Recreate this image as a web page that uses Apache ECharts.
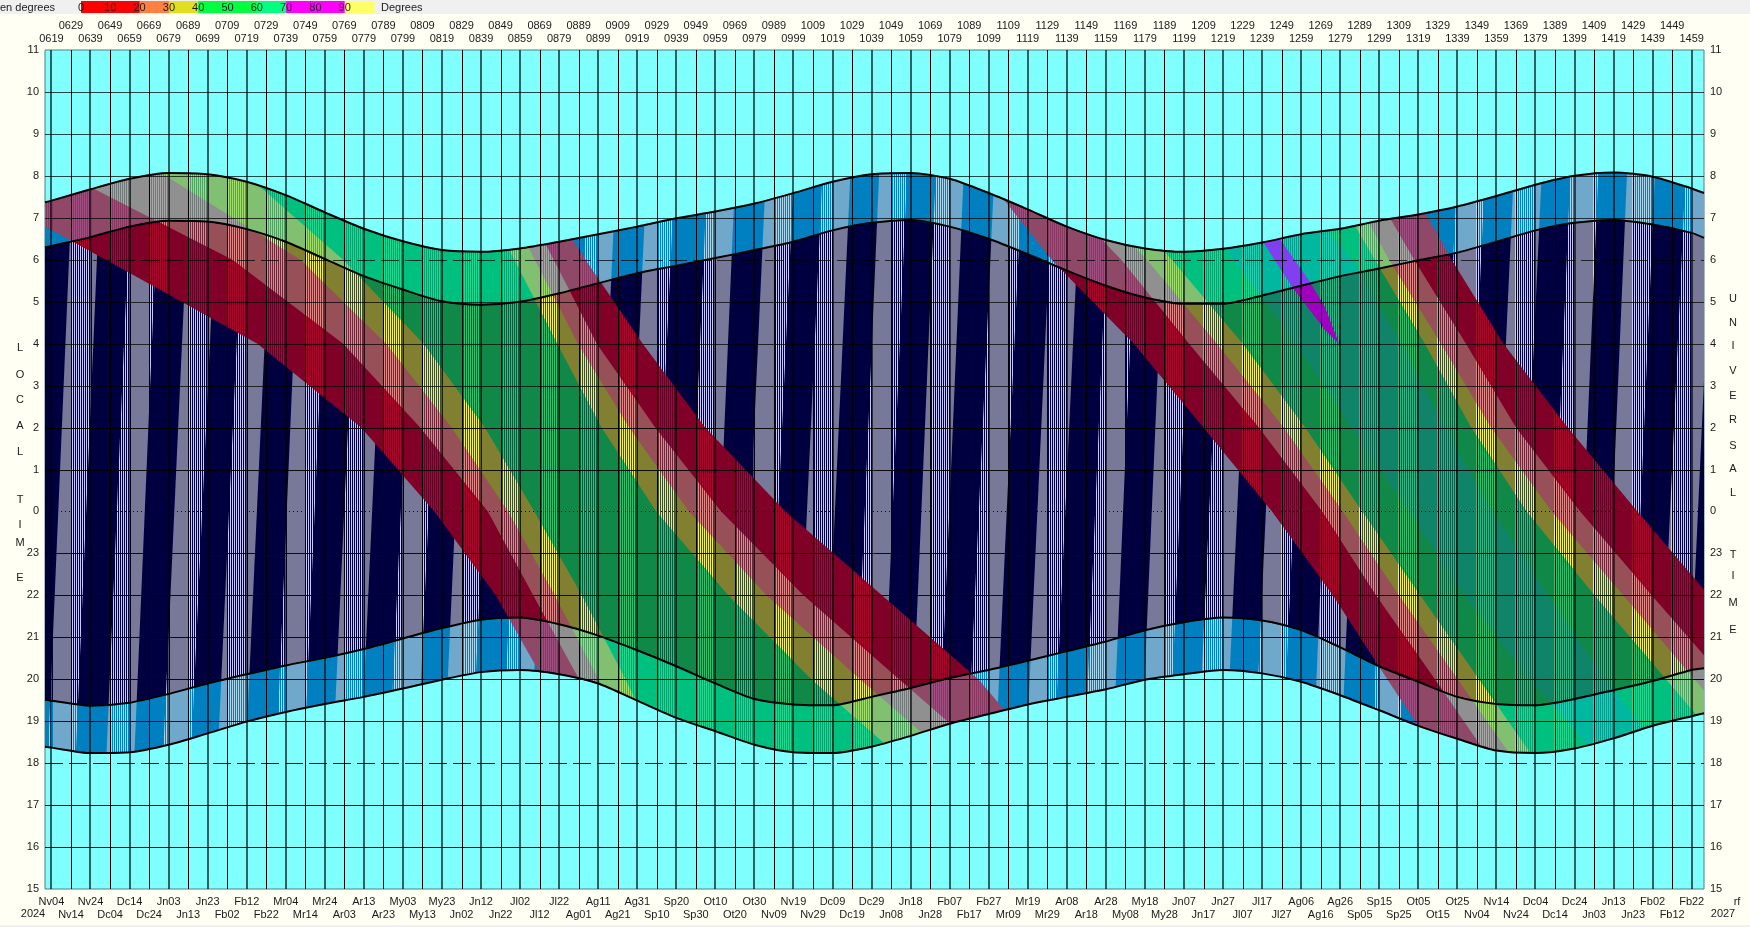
<!DOCTYPE html>
<html><head><meta charset="utf-8">
<style>html,body{margin:0;padding:0;background:#fffff4;overflow:hidden}#c{width:1750px;height:927px}</style>
<script src="https://cdn.jsdelivr.net/npm/echarts@6/dist/echarts.min.js"></script>
</head><body><div id="c"></div>
<script>
// --- values -----------------------------------------------------------------
const curveDays = [615.7,619,639,659,679,699,719,739,759,779,799,819,839,859,879,899,919,939,959,979,999,1019,1039,1059,1079,1099,1119,1139,1159,1179,1199,1219,1239,1259,1279,1299,1319,1339,1359,1379,1399,1419,1439,1459,1465.3];
const sunrise = [31.37,31.41,31.68,31.93,32.07,32.04,31.86,31.54,31.13,30.74,30.44,30.23,30.19,30.27,30.43,30.61,30.79,30.99,31.15,31.34,31.59,31.86,32.04,32.07,31.93,31.59,31.2,30.79,30.47,30.27,30.19,30.26,30.41,30.61,30.74,30.93,31.08,31.27,31.52,31.79,32.0,32.08,31.98,31.70,31.59];
const dawn = [30.29,30.33,30.54,30.79,30.93,30.91,30.73,30.43,30.02,29.61,29.29,29.01,28.93,29.0,29.2,29.44,29.68,29.86,30.04,30.23,30.43,30.7,30.88,30.95,30.79,30.5,30.13,29.74,29.38,29.1,28.95,28.95,29.15,29.38,29.61,29.79,29.99,30.17,30.43,30.7,30.88,30.95,30.84,30.64,30.52];
const sunset = [19.51,19.49,19.37,19.44,19.65,19.90,20.12,20.33,20.51,20.72,20.97,21.22,21.42,21.47,21.31,21.04,20.69,20.31,19.90,19.53,19.40,19.38,19.58,19.79,20.03,20.22,20.44,20.67,20.90,21.17,21.36,21.47,21.40,21.17,20.76,20.31,19.94,19.58,19.41,19.38,19.53,19.74,19.96,20.22,20.26];
const dusk = [18.39,18.37,18.24,18.26,18.44,18.71,18.99,19.22,19.41,19.58,19.78,19.99,20.17,20.22,20.12,19.90,19.49,19.08,18.76,18.44,18.26,18.24,18.39,18.65,18.94,19.17,19.40,19.58,19.76,19.99,20.12,20.22,20.14,19.94,19.62,19.26,18.89,18.58,18.30,18.24,18.35,18.59,18.89,19.12,19.19];

// altitude contours: day at which each contour crosses each hour level
const contourHours = [32.2,30,28,26,24,22,20,18];
const LA0 = [560.8,646.8,724.5,777.6,815.1,846.5,870.9,890.1];
const LA1 = [619.4,711.7,768.4,807.8,842.5,865.7,889.2,908.4];
const LA2 = [670.6,746.5,790.4,823.9,852.9,876.7,899.2,921.2];
const LA3 = [714.5,768.4,809.6,841.0,866.3,890.6,913,934];
const RA0 = [863.2,892.5,921.8,953.8,994.9,1044.3,1093.7,1130.3];
const RA1 = [851.9,876.2,898.3,928.2,962,1004.1,1053.1,1102.5];
const RA2 = [842.2,866.5,888.6,914.8,945.5,985.2,1033.1,1082.7];
const RA3 = [831.8,856.1,878,900.7,928.7,965.6,1008.1,1057.1];
const LB0 = [1093.7,1131.2,1173.3,1208.9,1244.1,1275.2,1303.1,1331.5];
const LB1 = [1121.1,1166.9,1201.6,1237.3,1269.8,1297.3,1327.5,1357.1];
const LB2 = [1134.9,1180,1215.9,1250.1,1280.3,1309,1339.2,1369];
const LB3 = [1151.3,1192.8,1229.1,1261.1,1290.3,1320,1350.1,1380];
const TL  = [1185.2,1224.5,1256.5,1284.8,1314.1,1342.5,1376.3,1413.8];
const TR  = [1245.5,1284.8,1310.5,1332.4,1357.1,1385.4,1414.7,1448.6];
const RB0 = [1309.5,1336.1,1362.6,1395.5,1431.2,1467.8,1505.3,1541.8];
const RB1 = [1289.4,1316.9,1343.4,1369,1401.9,1438.5,1476,1512.6];
const RB2 = [1278.4,1304,1330.6,1356.2,1387.3,1423.9,1460.4,1497];
const RB3 = [1269.3,1296.7,1322.3,1346.1,1374.5,1409.2,1445.8,1482.4];
const purpleArea = [[1237,30.6],[1246.5,30.6],[1262.9,29.51],[1271.1,28.88],[1278.4,28.0],[1271.1,28.33],[1254.7,29.33]];

// moon stripes: left edge day at the top level and at the bottom level
const moonHours = [32.2,18];
const moonHigh = [630,660,690,718,747,777,806,834,863,894,924,955,985,1014,1043,1072,1102,1132,1161,1190,1220,1249,1278,1308,1339,1368,1397,1426,1456];
const moonLow  = [617,647,676,704,734,763,792,820,850,880,910,942,971,1000,1030,1059,1088,1118,1148,1177,1206,1235,1265,1295,1325,1354,1384,1413,1442];
const moonWidth = [14.3];

const gridDays = [619,629,639,649,659,669,679,689,699,709,719,729,739,749,759,769,779,789,799,809,819,829,839,849,859,869,879,889,899,909,919,929,939,949,959,969,979,989,999,1009,1019,1029,1039,1049,1059,1069,1079,1089,1099,1109,1119,1129,1139,1149,1159,1169,1179,1189,1199,1209,1219,1229,1239,1249,1259,1269,1279,1289,1299,1309,1319,1329,1339,1349,1359,1369,1379,1389,1399,1409,1419,1429,1439,1449,1459];
const gridHours = [16,17,18,19,20,21,22,23,24,25,26,27,28,29,30,31,32,33,34];
const dateUpper = ['Nv04','Nv24','Dc14','Jn03','Jn23','Fb12','Mr04','Mr24','Ar13','My03','My23','Jn12','Jl02','Jl22','Ag11','Ag31','Sp20','Ot10','Ot30','Nv19','Dc09','Dc29','Jn18','Fb07','Fb27','Mr19','Ar08','Ar28','My18','Jn07','Jn27','Jl17','Ag06','Ag26','Sp15','Ot05','Ot25','Nv14','Dc04','Dc24','Jn13','Fb02','Fb22'];
const dateLower = ['Nv14','Dc04','Dc24','Jn13','Fb02','Fb22','Mr14','Ar03','Ar23','My13','Jn02','Jn22','Jl12','Ag01','Ag21','Sp10','Sp30','Ot20','Nv09','Nv29','Dc19','Jn08','Jn28','Fb17','Mr09','Mr29','Ar18','My08','My28','Jn17','Jl07','Jl27','Ag16','Sp05','Sp25','Ot15','Nv04','Nv24','Dc14','Jn03','Jn23','Fb12'];
const legendTicks = ['0','10','20','30','40','50','60','70','80','90'];
const legendColors = ['#ff0000','#ff0000','#ff8040','#e0e020','#00ff40','#00ff40','#00ff80','#ff00ff','#ff00ff','#ffff66'];
const leftWord = [['L',348],['O',375],['C',400],['A',426],['L',452],['T',500],['I',525],['M',543],['E',578]];
const rightWord = [['U',299],['N',323],['I',346],['V',371],['E',396],['R',420],['S',446],['A',469],['L',493],['T',555],['I',576],['M',603],['E',630]];

// --- helpers ----------------------------------------------------------------
const FONT = '"Liberation Sans", Arial, sans-serif';
const xMin = 615.7, xMax = 1465.3;
const evenDays = gridDays.filter((d,i)=>i%2===0), oddDays = gridDays.filter((d,i)=>i%2===1);
function zip(xs, ys){ return xs.map((x,i)=>[x,ys[i]]); }
const wholeArea = zip(curveDays,dusk).concat(zip(curveDays,sunrise).reverse());
const nightArea = zip(curveDays,sunset).concat(zip(curveDays,dawn).reverse());

function hatch(bright, dark, mid){
  const P = 39, start = 33, cv = document.createElement('canvas');
  cv.width = P; cv.height = 2;
  const g = cv.getContext('2d');
  for (let i=0;i<P;i++){
    const x = (start+i)%P;
    g.fillStyle = i<20 ? (i%2===0?bright:dark) : mid;
    g.fillRect(x,0,1,2);
  }
  return {image:cv, repeat:'repeat'};
}
function band(L,R){ return zip(L,contourHours).concat(zip(R,contourHours).reverse()); }
function moonPoly(i){
  const w = moonWidth[0];
  return [[moonHigh[i],moonHours[0]],[moonHigh[i]+w,moonHours[0]],[moonLow[i]+w,moonHours[1]],[moonLow[i],moonHours[1]]];
}
const twi = {
  mauve: hatch('#a05080','#883860','#904868'),
  gray:  hatch('#a8a8a8','#707878','#909090'),
  lt:    hatch('#a0e070','#50a060','#80c070'),
  sea:   hatch('#20d890','#00a870','#00c080'),
  teal:  hatch('#20d0b0','#00a090','#00b8a0'),
  moon:  hatch('#a8d8f0','#0080c0','#70a8cc')
};
const ngt = {
  red:   hatch('#a80830','#680026','#800028'),
  pink:  hatch('#e08888','#702838','#985058'),
  yel:   hatch('#f0f060','#405020','#808030'),
  green: hatch('#30c070','#006038','#108848'),
  teal:  hatch('#30b888','#006048','#108468'),
  moon:  hatch('#c8c8ff','#000040','#787898')
};
const groups = [
  [LA0,RA0,'mauve','red'],[LA1,RA1,'gray','pink'],[LA2,RA2,'lt','yel'],[LA3,RA3,'sea','green'],
  [LB0,RB0,'mauve','red'],[LB1,RB1,'gray','pink'],[LB2,RB2,'lt','yel'],[LB3,RB3,'sea','green'],
  [TL,TR,'teal','teal']
];
const polys = [];
polys.push({pts:wholeArea, fill:'#0080c0'});
moonHigh.forEach((_,i)=>polys.push({pts:moonPoly(i), fill:twi.moon, clip:wholeArea}));
groups.forEach(g=>polys.push({pts:band(g[0],g[1]), fill:twi[g[2]], clip:wholeArea}));
polys.push({pts:purpleArea, fill:'#8040f0', clip:wholeArea});
polys.push({pts:nightArea, fill:'#000040'});
moonHigh.forEach((_,i)=>polys.push({pts:moonPoly(i), fill:ngt.moon, clip:nightArea}));
groups.forEach(g=>polys.push({pts:band(g[0],g[1]), fill:ngt[g[3]], clip:nightArea}));
polys.push({pts:purpleArea, fill:'#a000c0', clip:nightArea});

const lineItems = [];
gridDays.forEach((d,i)=>lineItems.push({k:'v',v:d,teal:i%2===0}));
gridHours.forEach(h=>lineItems.push({k:'h',v:h}));

const xBase = {type:'value',min:xMin,max:xMax,axisLine:{show:false},axisTick:{show:false},splitLine:{show:false}};
const lab = {color:'#1a1a1a',fontFamily:FONT,fontSize:11,hideOverlap:false,showMinLabel:true,showMaxLabel:true};
function xAxisOf(pos,margin,vals,fmt){
  return Object.assign({},xBase,{position:pos,axisLabel:Object.assign({},lab,{customValues:vals,margin:margin,formatter:fmt})});
}
const pad4 = v=>String(Math.round(v)).padStart(4,'0');
const fmtUp = v=>dateUpper[evenDays.indexOf(Math.round(v))]||'';
const fmtLow = v=>dateLower[oddDays.indexOf(Math.round(v))]||'';
const hourLabel = v=>String(((v%24)+24)%24);
const yBase = {type:'value',min:15,max:35,interval:1,axisLine:{show:false},axisTick:{show:false},splitLine:{show:false}};

const graphics = [{type:'rect',left:0,top:0,shape:{width:1750,height:14},style:{fill:'#f0f0f0'},silent:true},
  {type:'rect',left:0,top:925,shape:{width:1750,height:2},style:{fill:'#f0f0f0'},silent:true}];
function txt(t,x,y,al){ return {type:'text',x:x,y:y,silent:true,style:{text:t,fill:'#1a1a1a',font:'11px '+FONT,textAlign:al||'center',textVerticalAlign:'middle'}}; }
const legX0 = 81, legStep = 29.3;
legendColors.forEach((c,i)=>graphics.push({type:'rect',x:legX0+i*legStep,y:1,silent:true,shape:{width:legStep+0.5,height:12},style:{fill:c}}));
legendTicks.forEach((t,i)=>graphics.push(txt(t,legX0+i*legStep,8)));
graphics.push(txt('en degrees',0,8,'left'),txt('Degrees',381,8,'left'),txt('2024',33,914),txt('2027',1723,914),txt('rf',1737,902));
leftWord.forEach(w=>graphics.push(txt(w[0],20,w[1])));
rightWord.forEach(w=>graphics.push(txt(w[0],1733,w[1])));

const option = {
  animation:false,
  backgroundColor:'#fffff4',
  textStyle:{fontFamily:FONT},
  grid:{left:45,right:46,top:50,bottom:38,show:true,backgroundColor:'#80ffff',borderColor:'#4f7f7f',borderWidth:1,containLabel:false},
  xAxis:[
    xAxisOf('bottom',7,evenDays,fmtUp),
    xAxisOf('bottom',20,oddDays,fmtLow),
    xAxisOf('top',6,evenDays,pad4),
    xAxisOf('top',19,oddDays,pad4)
  ],
  yAxis:[
    Object.assign({},yBase,{position:'left',axisLabel:{color:'#1a1a1a',fontFamily:FONT,fontSize:11,margin:6,formatter:hourLabel}}),
    Object.assign({},yBase,{position:'right',axisLabel:{color:'#1a1a1a',fontFamily:FONT,fontSize:11,margin:6,formatter:hourLabel}})
  ],
  graphic:{elements:graphics},
  series:[
    {type:'custom',z:2,clip:true,silent:true,coordinateSystem:'cartesian2d',data:polys.map((_,i)=>[xMin+1,15+1,i]),
     encode:{x:0,y:1},
     renderItem:function(params,api){
       const p = polys[params.dataIndex];
       const el = {type:'polygon',silent:true,shape:{points:p.pts.map(q=>api.coord(q))},style:{fill:p.fill}};
       if (p.clip) el.clipPath = {type:'polygon',shape:{points:p.clip.map(q=>api.coord(q))}};
       return el;
     }},
    ...[sunrise,dawn,sunset,dusk].map(ys=>({type:'line',z:4,silent:true,showSymbol:false,smooth:0.25,
       data:zip(curveDays,ys),lineStyle:{color:'#000',width:2}})),
    {type:'custom',z:6,clip:true,silent:true,coordinateSystem:'cartesian2d',data:lineItems.map((_,i)=>[xMin+1,15+1,i]),
     encode:{x:0,y:1},
     renderItem:function(params,api){
       const it = lineItems[params.dataIndex];
       if (it.k==='v'){
         const a = api.coord([it.v,15]), b = api.coord([it.v,35]);
         const w = it.teal?2:1, x = it.teal?Math.round(a[0]):Math.round(a[0])+0.5;
         return {type:'line',silent:true,shape:{x1:x,y1:a[1],x2:x,y2:b[1]},
           style:{stroke:it.teal?'rgba(0,0,0,0.62)':'#000',lineWidth:w}};
       }
       const a = api.coord([xMin,it.v]), b = api.coord([xMax,it.v]);
       const y = Math.round(a[1])+0.5;
       const dash = (it.v===18||it.v===30)?[18,6]:(it.v===24?[1,3]:null);
       return {type:'line',silent:true,shape:{x1:a[0],y1:y,x2:b[0],y2:y},
         style:{stroke:it.v>=27?'rgba(0,0,0,0.72)':'rgba(0,0,0,0.9)',lineWidth:1,lineDash:dash}};
     }}
  ]
};
const chart = echarts.init(document.getElementById('c'),null,{renderer:'canvas'});
chart.setOption(option);
</script></body></html>
